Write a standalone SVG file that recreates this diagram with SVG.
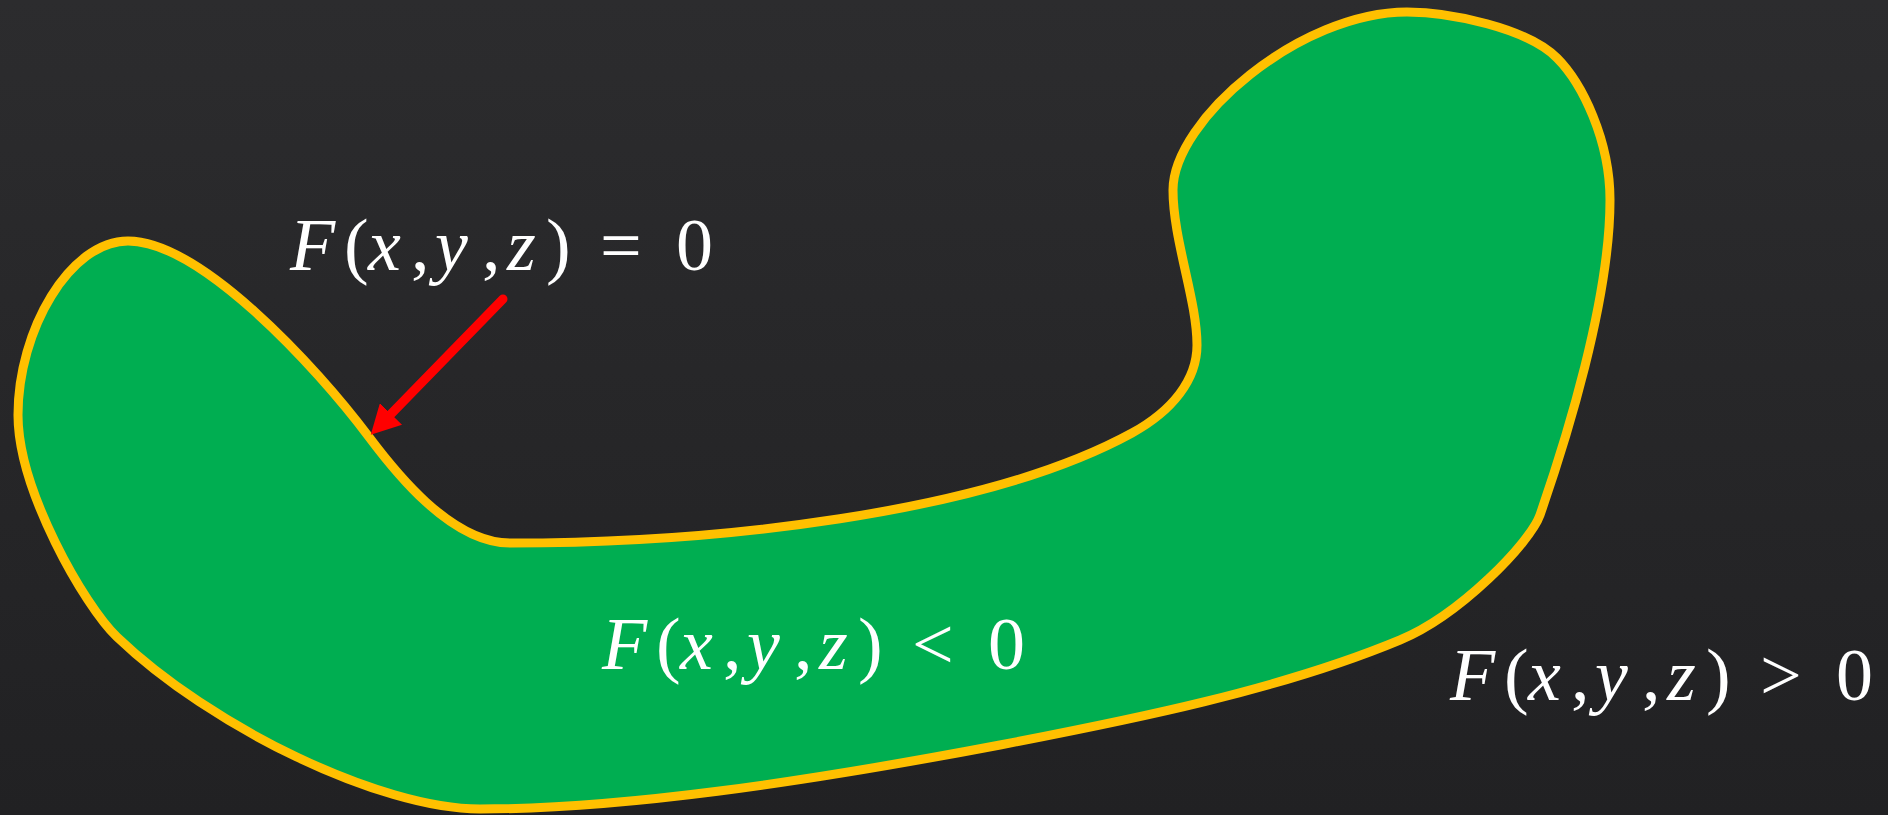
<svg xmlns="http://www.w3.org/2000/svg" width="1888" height="815" viewBox="0 0 1888 815">
  <defs>
    <linearGradient id="bg" x1="0" y1="0" x2="0" y2="1">
      <stop offset="0" stop-color="#2c2c2e"/>
      <stop offset="1" stop-color="#212123"/>
    </linearGradient>
    <marker id="head" viewBox="0 0 29 31" refX="0" refY="15.5" markerWidth="29" markerHeight="31" markerUnits="userSpaceOnUse" orient="auto">
      <path d="M0,0 L29,15.5 L0,31 z" fill="#ff0000"/>
    </marker>
    <style>
      .lbl { font-family: "Liberation Serif", "Times New Roman", serif; font-size: 74px; fill: #ffffff; }
      .it { font-style: italic; }
      .region { fill: #00ae51; stroke: #ffc000; stroke-width: 9; stroke-linejoin: round; }
      .arrow { stroke: #ff0000; stroke-width: 9; stroke-linecap: round; fill: none; }
    </style>
  </defs>

  <rect id="background" x="0" y="0" width="1888" height="815" fill="url(#bg)"/>

  <g id="region">
    <path class="region" d="M128,241
      C200,241 315,365 369,437
      C393,469 450,543 510,543
      C710,543 982,515 1132,433
      C1172,411 1197,380 1197,345
      C1197,300 1173,240 1173,190
      C1173,120 1300,12 1407,12
      C1450,12 1527,28 1557,58
      C1582,83 1610,140 1610,200
      C1610,300 1566,440 1540,515
      C1530,543 1460,615 1400,640
      C1280,690 1130,720 1000,745
      C800,783 620,809 480,809
      C380,809 211,727 117,637
      C84.5,605.8 18,490 18,415
      C18,330 70,241 128,241 Z"/>
  </g>

  <g id="connectors">
    <line id="arrow-surface" class="arrow" x1="503" y1="299" x2="391" y2="414" marker-end="url(#head)"/>
  </g>

  <g id="label-surface">
    <text class="lbl" y="270"><tspan class="it" x="290">F</tspan><tspan x="344">(</tspan><tspan class="it" x="368">x</tspan><tspan x="411">,</tspan><tspan class="it" x="435">y</tspan><tspan x="482">,</tspan><tspan class="it" x="507">z</tspan><tspan x="546">)</tspan><tspan x="600">=</tspan><tspan x="676">0</tspan></text>
  </g>

  <g id="label-inside">
    <text class="lbl" y="669"><tspan class="it" x="602">F</tspan><tspan x="656">(</tspan><tspan class="it" x="680">x</tspan><tspan x="723">,</tspan><tspan class="it" x="747">y</tspan><tspan x="794">,</tspan><tspan class="it" x="819">z</tspan><tspan x="858">)</tspan><tspan x="912">&lt;</tspan><tspan x="988">0</tspan></text>
  </g>

  <g id="label-outside">
    <text class="lbl" y="700"><tspan class="it" x="1450">F</tspan><tspan x="1504">(</tspan><tspan class="it" x="1528">x</tspan><tspan x="1571">,</tspan><tspan class="it" x="1595">y</tspan><tspan x="1642">,</tspan><tspan class="it" x="1667">z</tspan><tspan x="1706">)</tspan><tspan x="1760">&gt;</tspan><tspan x="1836">0</tspan></text>
  </g>
</svg>
